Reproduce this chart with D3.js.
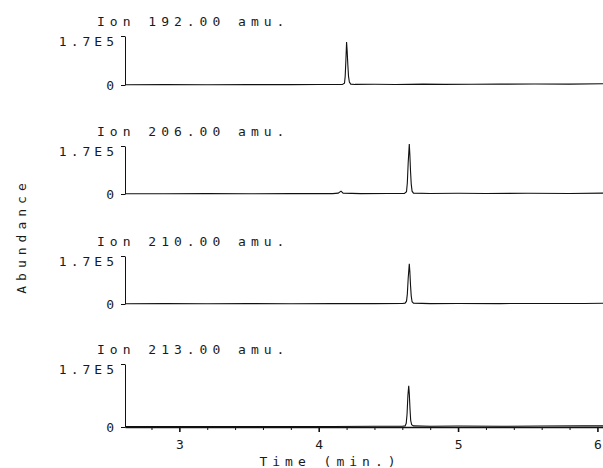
<!DOCTYPE html>
<html>
<head>
<meta charset="utf-8">
<script src="https://cdn.jsdelivr.net/npm/d3@7"></script>
<style>
  body { margin: 0; background: #fff; }
  text { font-family: "DejaVu Sans Mono", monospace; font-size: 13px; fill: #1a1a1a; }
</style>
</head>
<body>
<div id="chart"></div>
<script>
// ion traces, time in min, abundance in units of 1E5
const ions = ["192.00", "206.00", "210.00", "213.00"];

const ion192 = [
  [2.61, 0.01], [2.9, 0.012], [3.2, 0.01], [3.5, 0.014], [3.8, 0.012], [4.0, 0.015],
  [4.17, 0.015], [4.185, 0.06], [4.19, 0.3], [4.195, 0.85], [4.2, 1.49], [4.204, 1.2],
  [4.209, 0.7], [4.214, 0.3], [4.22, 0.1], [4.23, 0.03], [4.26, 0.02], [4.4, 0.025],
  [4.55, 0.015], [4.75, 0.03], [4.9, 0.02], [5.1, 0.028], [5.3, 0.03], [5.55, 0.035],
  [5.8, 0.03], [6.04, 0.045]
];
const ion206 = [
  [2.61, 0.01], [2.9, 0.01], [3.2, 0.012], [3.5, 0.01], [3.8, 0.012], [4.1, 0.015],
  [4.14, 0.03], [4.16, 0.1], [4.175, 0.03], [4.3, 0.015], [4.5, 0.02], [4.615, 0.02],
  [4.63, 0.08], [4.636, 0.4], [4.642, 1.1], [4.65, 1.77], [4.654, 1.4], [4.659, 0.8],
  [4.664, 0.35], [4.67, 0.1], [4.68, 0.03], [4.8, 0.02], [5.0, 0.025], [5.2, 0.02],
  [5.5, 0.025], [5.8, 0.02], [6.04, 0.03]
];
const ion210 = [
  [2.61, 0.01], [2.9, 0.012], [3.2, 0.01], [3.5, 0.012], [3.8, 0.01], [4.1, 0.012],
  [4.4, 0.015], [4.6, 0.02], [4.62, 0.03], [4.63, 0.1], [4.636, 0.35], [4.642, 0.9],
  [4.65, 1.42], [4.654, 1.15], [4.659, 0.65], [4.664, 0.28], [4.67, 0.08], [4.68, 0.03],
  [4.8, 0.015], [5.0, 0.02], [5.3, 0.015], [5.6, 0.02], [5.9, 0.02], [6.04, 0.025]
];
const ion213 = [
  [2.61, 0.01], [2.9, 0.012], [3.2, 0.01], [3.5, 0.015], [3.8, 0.012], [4.1, 0.015],
  [4.4, 0.02], [4.6, 0.02], [4.62, 0.03], [4.628, 0.1], [4.634, 0.35], [4.64, 0.85],
  [4.646, 1.11], [4.65, 0.9], [4.655, 0.5], [4.66, 0.18], [4.667, 0.06], [4.68, 0.03],
  [4.8, 0.02], [5.0, 0.025], [5.3, 0.02], [5.6, 0.025], [5.9, 0.03], [6.04, 0.03]
];
const traces = [ion192, ion206, ion210, ion213];

const yTicks = [0, 1.7];
const yTickLabels = ["0", "1.7E5"];
const xMajor = [3, 4, 5, 6];
const xMinor = [2.8, 3.2, 3.4, 3.6, 3.8, 4.2, 4.4, 4.6, 4.8, 5.2, 5.4, 5.6, 5.8];

const width = 603, height = 468;
// zero line and full-scale line of each panel
const panelZero = [85, 194, 304, 427];
const panelTop = [36, 146, 256, 364];

const svg = d3.select("#chart")
  .append("svg")
  .attr("width", width)
  .attr("height", height);

const x = d3.scaleLinear()
  .domain([2.61, 6.04])
  .range([125, 603]);

const line = d3.line()
  .x(d => x(d[0]));

traces.forEach((trace, i) => {
  const y = d3.scaleLinear()
    .domain([0, 1.7])
    .range([panelZero[i], panelTop[i]]);

  const g = svg.append("g");

  const yAxis = g.append("g")
    .attr("transform", `translate(${x.range()[0]},0)`)
    .call(d3.axisLeft(y)
      .tickValues(yTicks)
      .tickFormat((d, k) => yTickLabels[k])
      .tickSize(4)
      .tickSizeOuter(0)
      .tickPadding(3));
  yAxis.selectAll("path, line").attr("stroke", "#111").attr("stroke-width", 1);
  yAxis.selectAll("text")
    .style("font-family", "DejaVu Sans Mono, monospace")
    .style("font-size", "13px")
    .style("letter-spacing", "4px")
    .attr("fill", "#1a1a1a");
  yAxis.selectAll(".tick").filter(d => d > 0).select("text").attr("dy", "0.75em");

  g.append("text")
    .attr("x", 97)
    .attr("y", panelTop[i] - 10)
    .style("letter-spacing", "5px")
    .text(`Ion ${ions[i]} amu.`);

  g.append("path")
    .datum(trace)
    .attr("fill", "none")
    .attr("stroke", "#111")
    .attr("stroke-width", 1.1)
    .attr("d", line.y(d => y(d[1])));
});

// bottom time axis
const bottom = panelZero[3];
const xAxis = svg.append("g")
  .attr("transform", `translate(0,${bottom})`)
  .call(d3.axisBottom(x)
    .tickValues(xMajor)
    .tickFormat(d3.format("d"))
    .tickSize(5)
    .tickSizeOuter(0)
    .tickPadding(8));
xAxis.selectAll("path, line").attr("stroke", "#111").attr("stroke-width", 1.6);
xAxis.selectAll("text")
  .style("font-family", "DejaVu Sans Mono, monospace")
  .style("font-size", "13px")
  .attr("fill", "#1a1a1a");

const xMinorAxis = svg.append("g")
  .attr("transform", `translate(0,${bottom})`)
  .call(d3.axisBottom(x)
    .tickValues(xMinor)
    .tickFormat("")
    .tickSize(3)
    .tickSizeOuter(0));
xMinorAxis.select(".domain").remove();
xMinorAxis.selectAll("line").attr("stroke", "#111").attr("stroke-width", 1);

svg.append("text")
  .attr("x", 330)
  .attr("y", 466)
  .attr("text-anchor", "middle")
  .style("letter-spacing", "5px")
  .text("Time (min.)");

svg.append("text")
  .attr("transform", "translate(26,236) rotate(-90)")
  .attr("text-anchor", "middle")
  .style("letter-spacing", "5px")
  .text("Abundance");
</script>
</body>
</html>
